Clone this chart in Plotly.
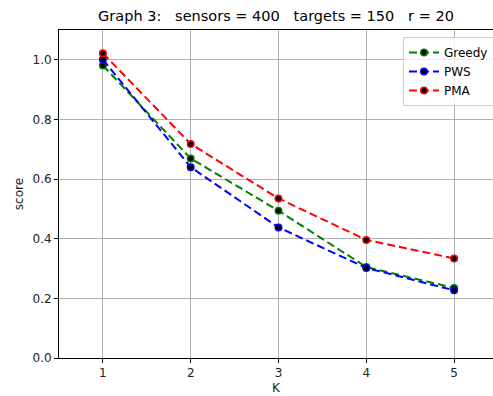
import plotly.graph_objects as go

K = [1, 2, 3, 4, 5]
greedy = [0.981, 0.669, 0.494, 0.305, 0.235]
pws = [1.001, 0.640, 0.438, 0.302, 0.227]
pma = [1.022, 0.718, 0.535, 0.396, 0.334]

series = [("Greedy", greedy, "green"), ("PWS", pws, "blue"), ("PMA", pma, "red")]

fig = go.Figure()
for name, vals, col in series:
    fig.add_trace(go.Scatter(
        x=K, y=vals, name=name, mode="lines+markers",
        line=dict(color=col, width=2, dash="8px,4px"),
        marker=dict(color="black", size=6.5, line=dict(color=col, width=1.5)),
    ))

FF = "DejaVu Sans"
nb = "\u00a0"
title = f"Graph 3:{nb*3}sensors = 400{nb*3}targets = 150{nb*3}r = 20"
W, H = 493, 396
fig.update_layout(
    width=W, height=H,
    margin=dict(l=59, r=0, t=30, b=38, autoexpand=False),
    paper_bgcolor="white", plot_bgcolor="white",
    font=dict(family=FF, size=12, color="#222"),
    title=dict(text=title,
               x=276 / W, xanchor="center", y=1 - 16 / H, yanchor="middle",
               font=dict(family=FF, size=14.5, color="black")),
    showlegend=True,
    legend=dict(x=0.7926, xanchor="left", y=0.979, yanchor="top",
                bgcolor="rgba(255,255,255,0.8)", bordercolor="#cccccc", borderwidth=1,
                font=dict(family=FF, size=12, color="black"),
                tracegroupgap=0, itemwidth=30),
)
fig.update_xaxes(
    range=[0.5, 5.443], tickvals=K, ticktext=[str(k) for k in K],
    showgrid=True, gridcolor="#b0b0b0", gridwidth=1, automargin=False,
    showline=True, linecolor="black", linewidth=1, mirror=True,
    ticks="outside", ticklen=4, tickcolor="black", zeroline=False,
    tickfont=dict(family=FF, size=12, color="#222"),
    title=dict(text="K", font=dict(family=FF, size=12, color="#222"), standoff=4),
)
fig.update_yaxes(
    range=[0, 1.1], tickvals=[0, 0.2, 0.4, 0.6, 0.8, 1.0],
    ticktext=["0.0", "0.2", "0.4", "0.6", "0.8", "1.0"],
    showgrid=True, gridcolor="#b0b0b0", gridwidth=1, automargin=False,
    showline=True, linecolor="black", linewidth=1,
    ticks="outside", ticklen=4, tickcolor="black", zeroline=False,
    tickfont=dict(family=FF, size=12, color="#222"),
    title=dict(text="score", font=dict(family=FF, size=12, color="#222"), standoff=6),
)
post = ("document.body.style.margin='0px';"
        "Plotly.relayout('{plot_id}', {width: %d, height: %d});" % (W, H))
fig.write_html("out.html", post_script=post, config={"displayModeBar": False})
